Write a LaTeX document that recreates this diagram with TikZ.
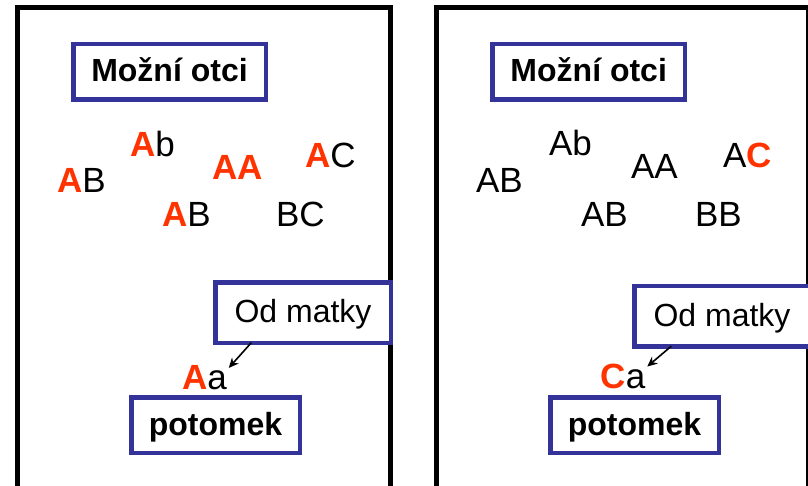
\documentclass[tikz,border=0pt]{standalone}
\usepackage{fontspec}
\setmainfont{Liberation Sans}
\usetikzlibrary{arrows.meta}
\definecolor{boxblue}{RGB}{51,51,153}
\definecolor{genred}{RGB}{255,51,0}
\newcommand{\rA}{\textcolor{genred}{\textbf{A}}}
\newcommand{\rC}{\textcolor{genred}{\textbf{C}}}
\tikzset{
  panel/.style={draw=black, line width=5pt},
  labbox/.style={draw=boxblue, line width=4.5pt, fill=white, inner sep=0pt, outer sep=0pt,
    text height=24pt, text depth=4pt, font=\fontsize{32}{38}\selectfont},
  geno/.style={anchor=base west, inner sep=0pt, outer sep=0pt, font=\fontsize{35}{42}\selectfont},
  arr/.style={-{Stealth[length=10pt,width=9pt]}, line width=1.6pt, black}
}
\begin{document}
\begin{tikzpicture}[x=1pt,y=-1pt]
\useasboundingbox (0,0) rectangle (808,486);
\clip (0,0) rectangle (808,486);
% panels
\draw[panel] (17.5,500) -- (17.5,7.5) -- (390.5,7.5) -- (390.5,500);
\draw[panel] (436.5,500) -- (436.5,7.5) -- (808.5,7.5) -- (808.5,500);
% left panel
\node[labbox, minimum width=192.5pt, minimum height=55.5pt] (mo1) at (169.5,72) {\textbf{Možní otci}};
\node[geno] (l1) at (57,193) {\rA B};
\node[geno] (l2) at (130,157) {\rA b};
\node[geno] (l3) at (212,180) {\rA\rA};
\node[geno] (l4) at (305,168) {\rA C};
\node[geno] (l5) at (162,227) {\rA B};
\node[geno] (l6) at (276,227) {BC};
\node[labbox, minimum width=175.5pt, minimum height=60.5pt] (od1) at (303,312.5) {Od matky};
\node[geno] (aa1) at (182,389) {\rA a};
\node[labbox, minimum width=168.5pt, minimum height=55.5pt] (po1) at (215.5,425) {\textbf{potomek}};
\draw[arr] ([xshift=36pt]od1.south west) -- ([xshift=2pt,yshift=-3pt]aa1.north east);
% right panel
\node[labbox, minimum width=192.5pt, minimum height=55.5pt] (mo2) at (588.7,72) {\textbf{Možní otci}};
\node[geno] (r1) at (476,193) {AB};
\node[geno] (r2) at (549,156) {Ab};
\node[geno] (r3) at (631,179) {AA};
\node[geno] (r4) at (723,168) {A\rC};
\node[geno] (r5) at (581,227) {AB};
\node[geno] (r6) at (695,227) {BB};
\node[labbox, minimum width=175.5pt, minimum height=60.5pt] (od2) at (722,316) {Od matky};
\node[geno] (ca2) at (600.5,388) {\rC a};
\node[labbox, minimum width=168.5pt, minimum height=55.5pt] (po2) at (634.5,425) {\textbf{potomek}};
\draw[arr] ([xshift=37pt]od2.south west) -- ([xshift=2pt,yshift=-3pt]ca2.north east);
\end{tikzpicture}
\end{document}
